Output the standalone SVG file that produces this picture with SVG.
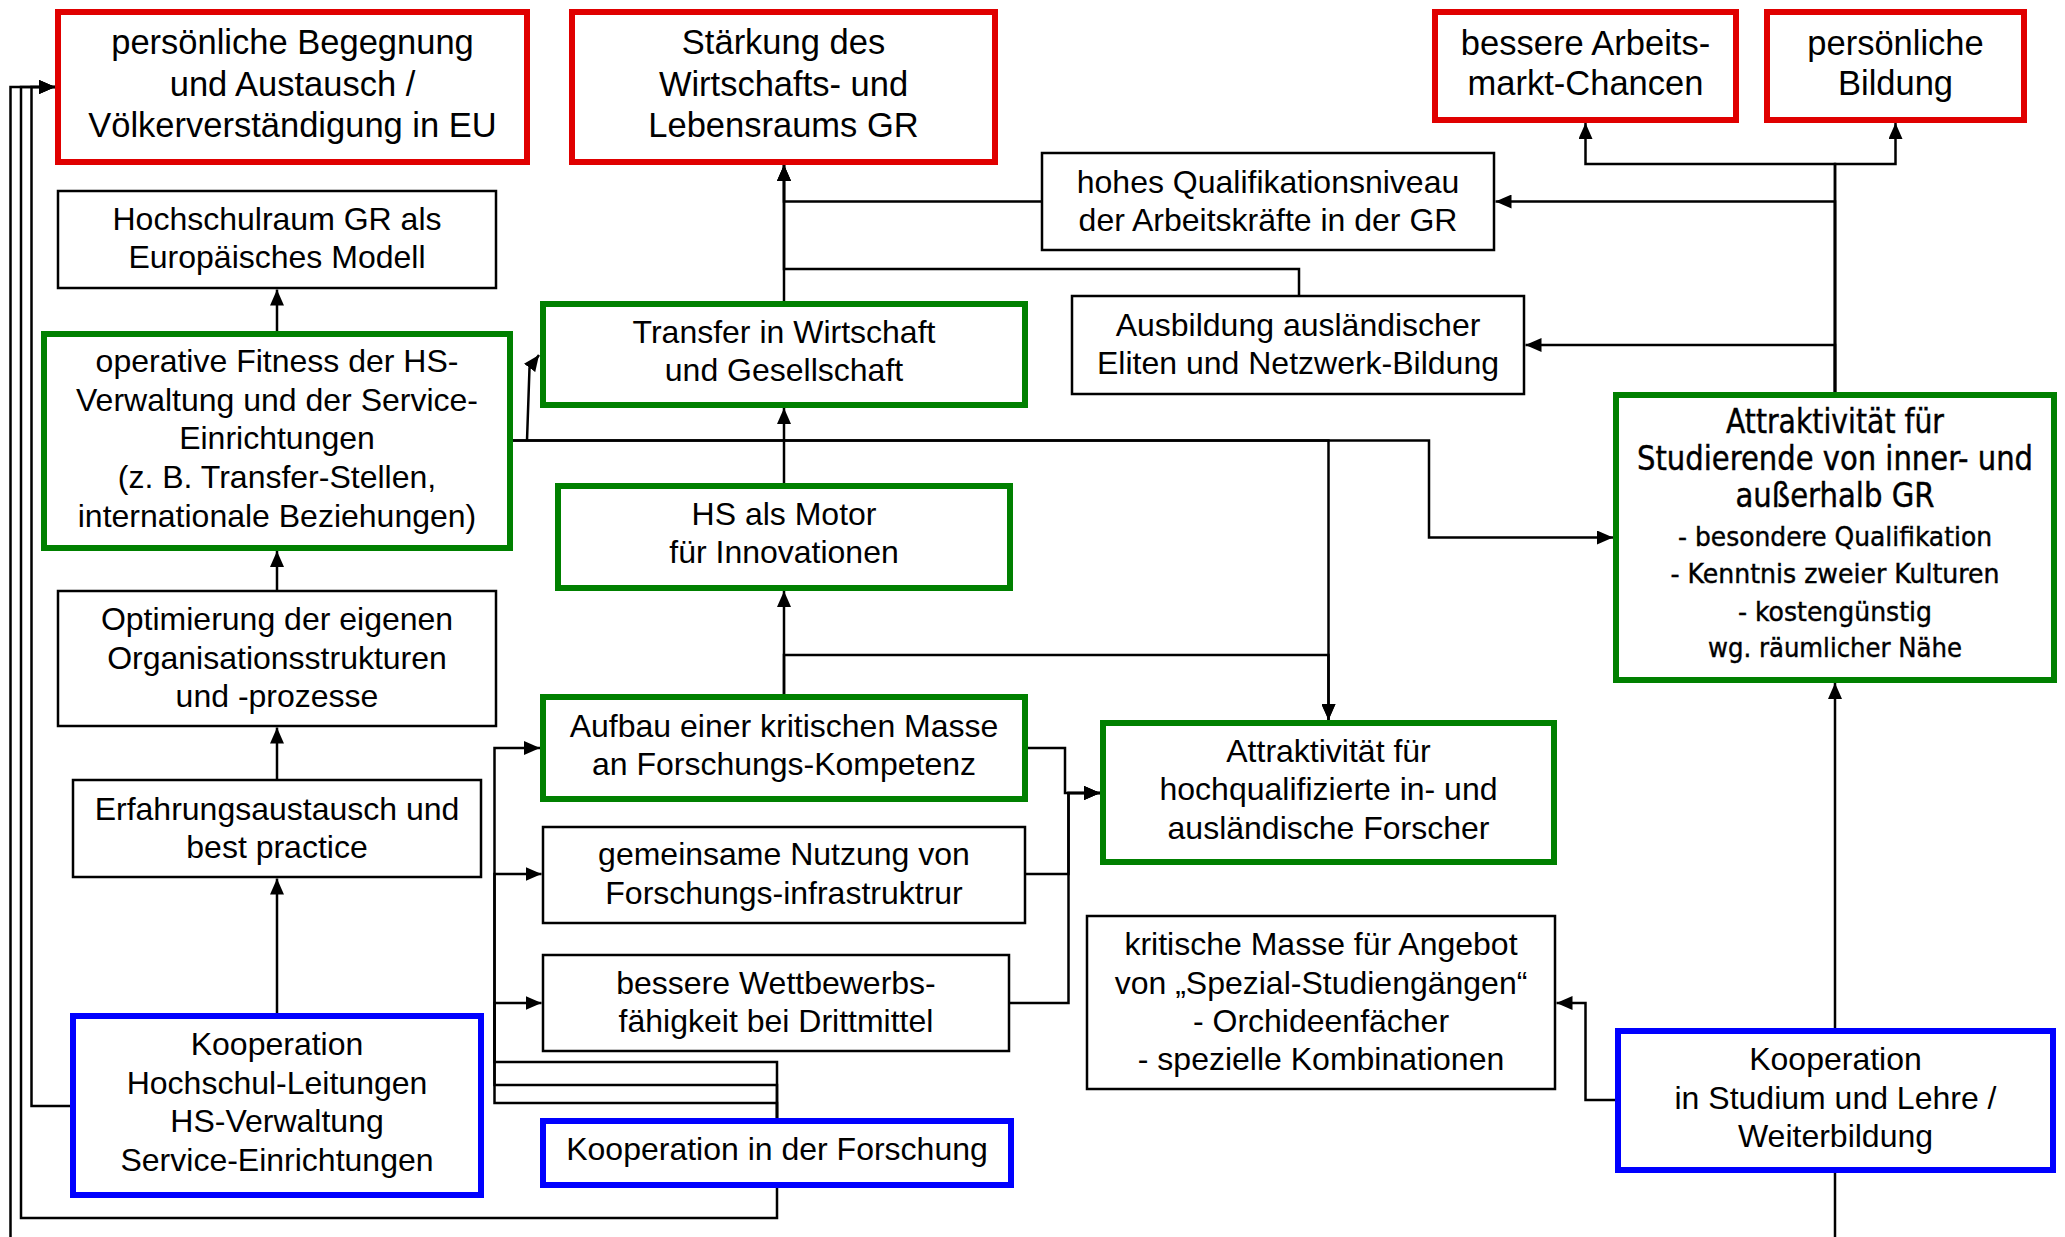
<svg xmlns="http://www.w3.org/2000/svg" width="2065" height="1237" viewBox="0 0 2065 1237">
<defs>
<style>
.bx{fill:#fff}
.red{stroke:#E00000;stroke-width:6}
.grn{stroke:#008000;stroke-width:6}
.blu{stroke:#0000FF;stroke-width:6}
.blk{stroke:#000;stroke-width:2.5}
.t{font-family:"Liberation Sans",Arial,sans-serif;font-size:32px;text-anchor:middle;fill:#000}
.tl{font-size:34.5px}
.ta{font-family:"DejaVu Sans Condensed","DejaVu Sans",sans-serif;font-stretch:condensed;text-anchor:middle;fill:#000;stroke:#000;stroke-width:0.4}
.ta1{font-size:33px}
.ta2{font-size:27px}
#connectors path{fill:none;stroke:#000;stroke-width:2.5}
.ar{marker-end:url(#arr)}
</style>
<marker id="arr" viewBox="0 0 16 14" refX="16" refY="7" markerWidth="16" markerHeight="14" markerUnits="userSpaceOnUse" orient="auto">
<path d="M0,0 L16,7 L0,14 z" fill="#000"/>
</marker>
</defs>
<rect width="2065" height="1237" fill="#fff"/>
<g id="connectors">
<path class="ar" d="M277,1013 V878.5"/>
<path class="ar" d="M277,779 V727.5"/>
<path class="ar" d="M277,590 V551"/>
<path class="ar" d="M277,331 V289.5"/>
<path class="ar" d="M70,1106 H31.5 V87 H55"/>
<path class="ar" d="M777,1188 V1218 H21 V87 H55"/>
<path d="M1835,1173 V1237"/>
<path class="ar" d="M10.5,1237 V87 H55"/>
<path class="ar" d="M777,1118 V1103 H494.5 V1003 H541.5"/>
<path class="ar" d="M777,1118 V1085 H494.5 V874 H541.5"/>
<path class="ar" d="M777,1118 V1062 H494.5 V748 H540"/>
<path class="ar" d="M784,694 V591"/>
<path class="ar" d="M784,694 V655 H1328.5 V720"/>
<path class="ar" d="M784,483 V408"/>
<path class="ar" d="M784,301 V165"/>
<path class="ar" d="M1041,201.5 H784 V165"/>
<path class="ar" d="M1299,295 V269 H784 V165"/>
<path class="ar" d="M1835,392 V164 H1585.5 V123"/>
<path class="ar" d="M1835,392 V164 H1895.5 V123"/>
<path class="ar" d="M1835,392 V201.5 H1495.5"/>
<path class="ar" d="M1835,392 V345 H1525.5"/>
<path class="ar" d="M1835,1028 V683"/>
<path class="ar" d="M1615,1100 H1585.5 V1003 H1556.5"/>
<path class="ar" d="M513,440.5 H1429 V537.5 H1613"/>
<path class="ar" d="M513,440.5 H1328.5 V720"/>
<path class="ar" d="M527,440.5 L529.5,368 L539,355"/>
<path class="ar" d="M1028,748 H1065 V793 H1100"/>
<path class="ar" d="M1026,874 H1068.5 V793 H1100"/>
<path class="ar" d="M1010,1003 H1068.5 V793 H1100"/>
</g>
<g id="n-begegnung">
<rect class="bx red" x="58" y="12" width="469" height="150"/>
<text class="t tl"><tspan x="292.5" y="53.5">persönliche Begegnung</tspan><tspan x="292.5" y="95.5">und Austausch /</tspan><tspan x="292.5" y="137">Völkerverständigung in EU</tspan></text>
</g>
<g id="n-staerkung">
<rect class="bx red" x="572" y="12" width="423" height="150"/>
<text class="t tl"><tspan x="783.5" y="53.5">Stärkung des</tspan><tspan x="783.5" y="95.5">Wirtschafts- und</tspan><tspan x="783.5" y="137">Lebensraums GR</tspan></text>
</g>
<g id="n-arbeitsmarkt">
<rect class="bx red" x="1435" y="12" width="301" height="108"/>
<text class="t tl"><tspan x="1585.5" y="54.5">bessere Arbeits-</tspan><tspan x="1585.5" y="95">markt-Chancen</tspan></text>
</g>
<g id="n-bildung">
<rect class="bx red" x="1767" y="12" width="257" height="108"/>
<text class="t tl"><tspan x="1895.5" y="54.5">persönliche</tspan><tspan x="1895.5" y="95">Bildung</tspan></text>
</g>
<g id="n-hochschulraum">
<rect class="bx blk" x="58" y="191" width="438" height="97"/>
<text class="t"><tspan x="277" y="230">Hochschulraum GR als</tspan><tspan x="277" y="268">Europäisches Modell</tspan></text>
</g>
<g id="n-qualifikation">
<rect class="bx blk" x="1042" y="153" width="452" height="97"/>
<text class="t"><tspan x="1268" y="193">hohes Qualifikationsniveau</tspan><tspan x="1268" y="231">der Arbeitskräfte in der GR</tspan></text>
</g>
<g id="n-ausbildung">
<rect class="bx blk" x="1072" y="296" width="452" height="98"/>
<text class="t"><tspan x="1298" y="336">Ausbildung ausländischer</tspan><tspan x="1298" y="374">Eliten und Netzwerk-Bildung</tspan></text>
</g>
<g id="n-transfer">
<rect class="bx grn" x="543" y="304" width="482" height="101"/>
<text class="t"><tspan x="784" y="342.5">Transfer in Wirtschaft</tspan><tspan x="784" y="381">und Gesellschaft</tspan></text>
</g>
<g id="n-fitness">
<rect class="bx grn" x="44" y="334" width="466" height="214"/>
<text class="t"><tspan x="277" y="372">operative Fitness der HS-</tspan><tspan x="277" y="410.5">Verwaltung und der Service-</tspan><tspan x="277" y="449">Einrichtungen</tspan><tspan x="277" y="488">(z. B. Transfer-Stellen,</tspan><tspan x="277" y="526.5">internationale Beziehungen)</tspan></text>
</g>
<g id="n-studierende">
<rect class="bx grn" x="1616" y="395" width="438" height="285"/>
<text class="ta ta1"><tspan x="1835" y="433" textLength="218" lengthAdjust="spacingAndGlyphs">Attraktivität für</tspan><tspan x="1835" y="469.5" textLength="396" lengthAdjust="spacingAndGlyphs">Studierende von inner- und</tspan><tspan x="1835" y="506.5" textLength="199" lengthAdjust="spacingAndGlyphs">außerhalb GR</tspan></text>
<text class="ta ta2"><tspan x="1835" y="545.5" textLength="314" lengthAdjust="spacingAndGlyphs">- besondere Qualifikation</tspan><tspan x="1835" y="583" textLength="329" lengthAdjust="spacingAndGlyphs">- Kenntnis zweier Kulturen</tspan><tspan x="1835" y="620.5" textLength="194" lengthAdjust="spacingAndGlyphs">- kostengünstig</tspan><tspan x="1835" y="657" textLength="254" lengthAdjust="spacingAndGlyphs">wg. räumlicher Nähe</tspan></text>
</g>
<g id="n-motor">
<rect class="bx grn" x="558" y="486" width="452" height="102"/>
<text class="t"><tspan x="784" y="525">HS als Motor</tspan><tspan x="784" y="563">für Innovationen</tspan></text>
</g>
<g id="n-optimierung">
<rect class="bx blk" x="58" y="591" width="438" height="135"/>
<text class="t"><tspan x="277" y="630">Optimierung der eigenen</tspan><tspan x="277" y="668.5">Organisationsstrukturen</tspan><tspan x="277" y="706.5">und -prozesse</tspan></text>
</g>
<g id="n-aufbau">
<rect class="bx grn" x="543" y="697" width="482" height="102"/>
<text class="t"><tspan x="784" y="737">Aufbau einer kritischen Masse</tspan><tspan x="784" y="775">an Forschungs-Kompetenz</tspan></text>
</g>
<g id="n-forscher">
<rect class="bx grn" x="1103" y="723" width="451" height="139"/>
<text class="t"><tspan x="1328.5" y="762">Attraktivität für</tspan><tspan x="1328.5" y="800">hochqualifizierte in- und</tspan><tspan x="1328.5" y="838.5">ausländische Forscher</tspan></text>
</g>
<g id="n-erfahrung">
<rect class="bx blk" x="73" y="780" width="408" height="97"/>
<text class="t"><tspan x="277" y="820">Erfahrungsaustausch und</tspan><tspan x="277" y="858">best practice</tspan></text>
</g>
<g id="n-infrastruktur">
<rect class="bx blk" x="543" y="827" width="482" height="96"/>
<text class="t"><tspan x="784" y="865">gemeinsame Nutzung von</tspan><tspan x="784" y="903.5">Forschungs-infrastruktrur</tspan></text>
</g>
<g id="n-spezial">
<rect class="bx blk" x="1087" y="916" width="468" height="173"/>
<text class="t"><tspan x="1321" y="955">kritische Masse für Angebot</tspan><tspan x="1321" y="993.5">von „Spezial-Studiengängen“</tspan><tspan x="1321" y="1031.5">- Orchideenfächer</tspan><tspan x="1321" y="1069.5">- spezielle Kombinationen</tspan></text>
</g>
<g id="n-drittmittel">
<rect class="bx blk" x="543" y="955" width="466" height="96"/>
<text class="t"><tspan x="776" y="993.5">bessere Wettbewerbs-</tspan><tspan x="776" y="1031.5">fähigkeit bei Drittmittel</tspan></text>
</g>
<g id="n-koop-hs">
<rect class="bx blu" x="73" y="1016" width="408" height="179"/>
<text class="t"><tspan x="277" y="1055">Kooperation</tspan><tspan x="277" y="1093.5">Hochschul-Leitungen</tspan><tspan x="277" y="1132">HS-Verwaltung</tspan><tspan x="277" y="1170.5">Service-Einrichtungen</tspan></text>
</g>
<g id="n-koop-forschung">
<rect class="bx blu" x="543" y="1121" width="468" height="64"/>
<text class="t"><tspan x="777" y="1160">Kooperation in der Forschung</tspan></text>
</g>
<g id="n-koop-studium">
<rect class="bx blu" x="1618" y="1031" width="435" height="139"/>
<text class="t"><tspan x="1835.5" y="1070">Kooperation</tspan><tspan x="1835.5" y="1108.5">in Studium und Lehre /</tspan><tspan x="1835.5" y="1146.5">Weiterbildung</tspan></text>
</g>
</svg>
